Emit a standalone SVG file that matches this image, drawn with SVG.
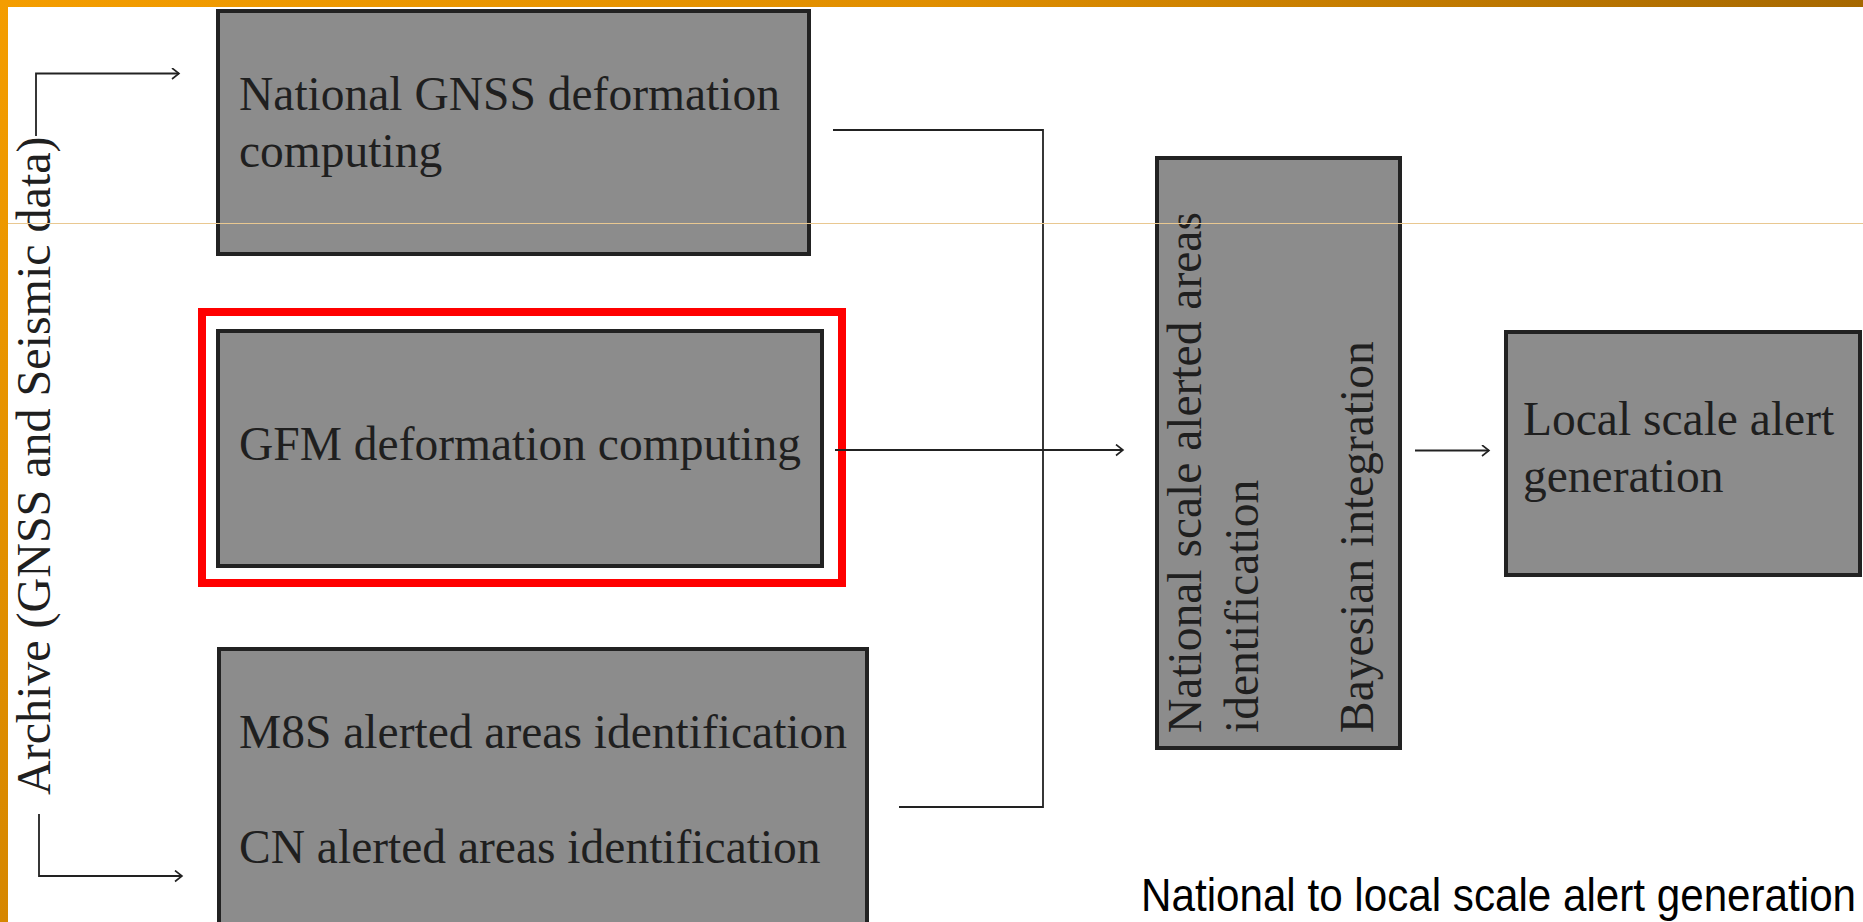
<svg xmlns="http://www.w3.org/2000/svg" width="1863" height="922" viewBox="0 0 1863 922">
  <defs>
    <linearGradient id="topBar" x1="0" y1="0" x2="1" y2="0">
      <stop offset="0" stop-color="#f49d00"/>
      <stop offset="0.5" stop-color="#e08e00"/>
      <stop offset="1" stop-color="#a66800"/>
    </linearGradient>
    <linearGradient id="leftBar" x1="0" y1="0" x2="0" y2="1">
      <stop offset="0" stop-color="#f49d00"/>
      <stop offset="1" stop-color="#d68700"/>
    </linearGradient>
    <marker id="arrow" markerUnits="userSpaceOnUse" markerWidth="12" markerHeight="14" refX="8" refY="6" orient="auto">
      <path d="M1,0.5 L8,6 L1,11.5" fill="none" stroke="#222" stroke-width="1.6"/>
    </marker>
    <style>
      .box { fill: #8c8c8c; stroke: #222; stroke-width: 4; }
      .lbl { font-family: "Liberation Serif", "Times New Roman", serif; font-size: 47.5px; fill: #1f1f1f; }
      .conn { fill: none; stroke: #222; stroke-width: 1.8; }
    </style>
  </defs>

  <rect x="0" y="0" width="1863" height="922" fill="#ffffff"/>
  <rect x="0" y="0" width="1863" height="7" fill="url(#topBar)"/>
  <rect x="0" y="0" width="8" height="922" fill="url(#leftBar)"/>

  <g id="archive-label">
    <text class="lbl" style="font-size:48px" transform="translate(50,795) rotate(-90)">Archive (GNSS and Seismic data)</text>
  </g>

  <g id="node-gnss">
    <rect class="box" x="218" y="11" width="591" height="243"/>
    <text class="lbl" x="239" y="110">National GNSS deformation</text>
    <text class="lbl" x="239" y="167">computing</text>
  </g>

  <g id="node-gfm">
    <rect x="202" y="312" width="640" height="271" fill="none" stroke="#ff0000" stroke-width="8"/>
    <rect class="box" x="218" y="331" width="604" height="235"/>
    <text class="lbl" x="239" y="460">GFM deformation computing</text>
  </g>

  <g id="node-m8s">
    <rect class="box" x="219" y="649" width="648" height="300"/>
    <text class="lbl" x="239" y="748">M8S alerted areas identification</text>
    <text class="lbl" x="239" y="863">CN alerted areas identification</text>
  </g>

  <g id="node-national">
    <rect class="box" x="1157" y="158" width="243" height="590"/>
    <text class="lbl" transform="translate(1201,733) rotate(-90)">National scale alerted areas</text>
    <text class="lbl" transform="translate(1258,733) rotate(-90)">identification</text>
    <text class="lbl" transform="translate(1373,733) rotate(-90)">Bayesian integration</text>
  </g>

  <g id="node-local">
    <rect class="box" x="1506" y="332" width="354" height="243"/>
    <text class="lbl" x="1523" y="435">Local scale alert</text>
    <text class="lbl" x="1523" y="492">generation</text>
  </g>

  <g id="connectors">
    <path class="conn" d="M36,136 V73.5 H179" marker-end="url(#arrow)"/>
    <path class="conn" d="M39,814 V876 H182" marker-end="url(#arrow)"/>
    <path class="conn" d="M833,130 H1043 V807 H899"/>
    <path class="conn" d="M835,450 H1123" marker-end="url(#arrow)"/>
    <path class="conn" d="M1415,450.5 H1489" marker-end="url(#arrow)"/>
  </g>

  <g id="caption">
    <text transform="translate(1141,911) scale(0.917,1)" font-family="'Liberation Sans', Arial, sans-serif" font-size="46" fill="#000">National to local scale alert generation</text>
  </g>

  <line x1="8" y1="223.5" x2="1863" y2="223.5" stroke="#e9c891" stroke-width="1"/>
</svg>
